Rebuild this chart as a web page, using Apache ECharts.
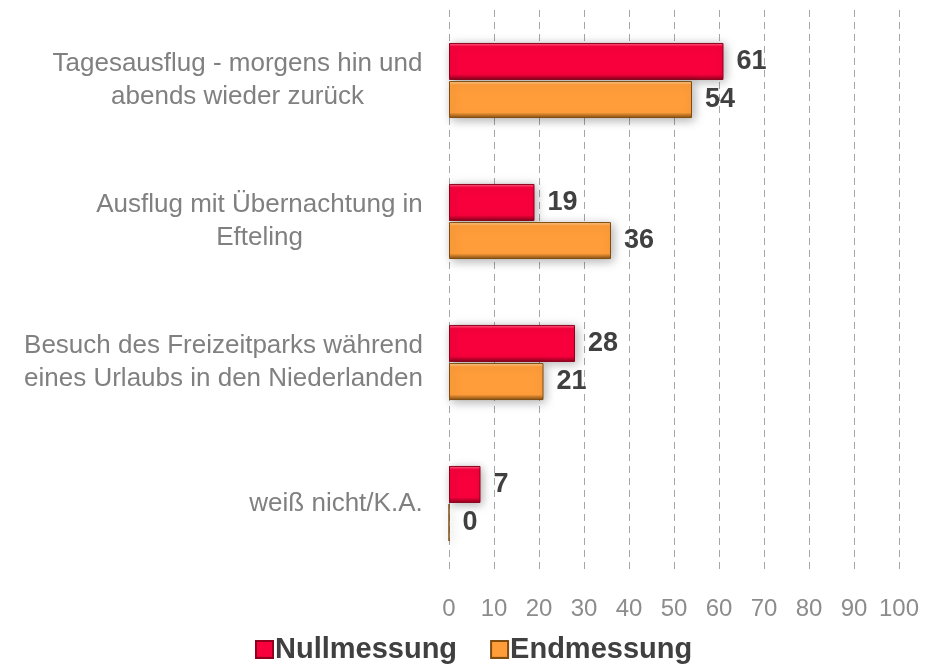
<!DOCTYPE html>
<html>
<head>
<meta charset="utf-8">
<script src="https://cdn.jsdelivr.net/npm/echarts@6/dist/echarts.min.js"></script>
<style>
    html,body{margin:0;padding:0;background:#fff;}
    #chart{width:925px;height:664px;}
</style>
</head>
<body>
<div id="chart"></div>
<script>
// Kategorien (von oben nach unten)
const categories = [
    'Tagesausflug - morgens hin und\nabends wieder zurück',
    'Ausflug mit Übernachtung in\nEfteling',
    'Besuch des Freizeitparks während\neines Urlaubs in den Niederlanden',
    'weiß nicht/K.A.'
];
const nullmessung = [61, 19, 28, 7];
const endmessung = [54, 36, 21, 0];
const xTicks = [0, 10, 20, 30, 40, 50, 60, 70, 80, 90, 100];

const FONT = 'Liberation Sans, Arial, sans-serif';
const CAT_SIZE = 26;

// Breite der längsten Zeile messen, damit mehrzeilige Labels zentriert stehen
const ctx = document.createElement('canvas').getContext('2d');
ctx.font = CAT_SIZE + 'px ' + FONT;
const catRich = {};
categories.forEach((c, i) => {
    let w = Math.max(...c.split('\n').map(l => ctx.measureText(l).width));
    catRich['c' + i] = {
        width: Math.ceil(w) + 2,
        align: 'center',
        fontFamily: FONT,
        fontSize: CAT_SIZE,
        lineHeight: 33,
        color: '#808080'
    };
});

const chart = echarts.init(document.getElementById('chart'));

function barStyle(light, main, dark){
    return {
        color: new echarts.graphic.LinearGradient(0, 0, 0, 1, [
            {offset: 0, color: light},
            {offset: 0.1, color: main},
            {offset: 0.85, color: main},
            {offset: 1, color: dark}
        ]),
        borderColor: dark,
        borderWidth: 1,
        shadowColor: 'rgba(0,0,0,0.3)',
        shadowBlur: 10,
        shadowOffsetX: 2,
        shadowOffsetY: 2
    };
}

const valueLabel = {
    show: true,
    position: 'right',
    distance: 13,
    fontFamily: FONT,
    fontSize: 27,
    fontWeight: 'bold',
    color: '#404040'
};

let option = {
    animation: false,
    grid: {
        left: 449,
        right: 26,
        top: 10,
        bottom: 90
    },
    legend: {
        top: 630,
        left: 250,
        itemWidth: 17,
        itemHeight: 17,
        itemGap: 33,
        icon: 'rect',
        textStyle: {
            fontFamily: FONT,
            fontSize: 29,
            fontWeight: 'bold',
            color: '#404040',
            padding: [0, 0, 0, -3]
        },
        data: ['Nullmessung', 'Endmessung']
    },
    xAxis: {
        type: 'value',
        min: 0,
        max: 100,
        interval: 10,
        axisLine: {show: false},
        axisTick: {show: false},
        splitLine: {
            lineStyle: {color: '#a6a6a6', type: [7, 5], width: 1}
        },
        axisLabel: {
            margin: 23,
            fontFamily: FONT,
            fontSize: 24,
            color: '#8c8c8c',
            formatter: function(v){ return xTicks.indexOf(v) >= 0 ? String(v) : ''; }
        }
    },
    yAxis: {
        type: 'category',
        inverse: true,
        data: categories,
        axisLine: {show: false},
        axisTick: {show: false},
        axisLabel: {
            margin: 25,
            align: 'right',
            fontFamily: FONT,
            fontSize: CAT_SIZE,
            lineHeight: 33,
            color: '#808080',
            formatter: function(v, i){
                return v.split('\n').map(l => '{c' + i + '|' + l + '}').join('\n');
            },
            rich: catRich
        }
    },
    series: [
        {
            name: 'Nullmessung',
            type: 'bar',
            data: nullmessung,
            barWidth: 37,
            barGap: '3%',
            itemStyle: barStyle('#ff6a88', '#f8003c', '#8f001d'),
            label: valueLabel
        },
        {
            name: 'Endmessung',
            type: 'bar',
            data: endmessung,
            barWidth: 37,
            itemStyle: barStyle('#ffd29a', '#ff9d3a', '#7f4c10'),
            label: valueLabel
        }
    ]
};
chart.setOption(option);
</script>
</body>
</html>
